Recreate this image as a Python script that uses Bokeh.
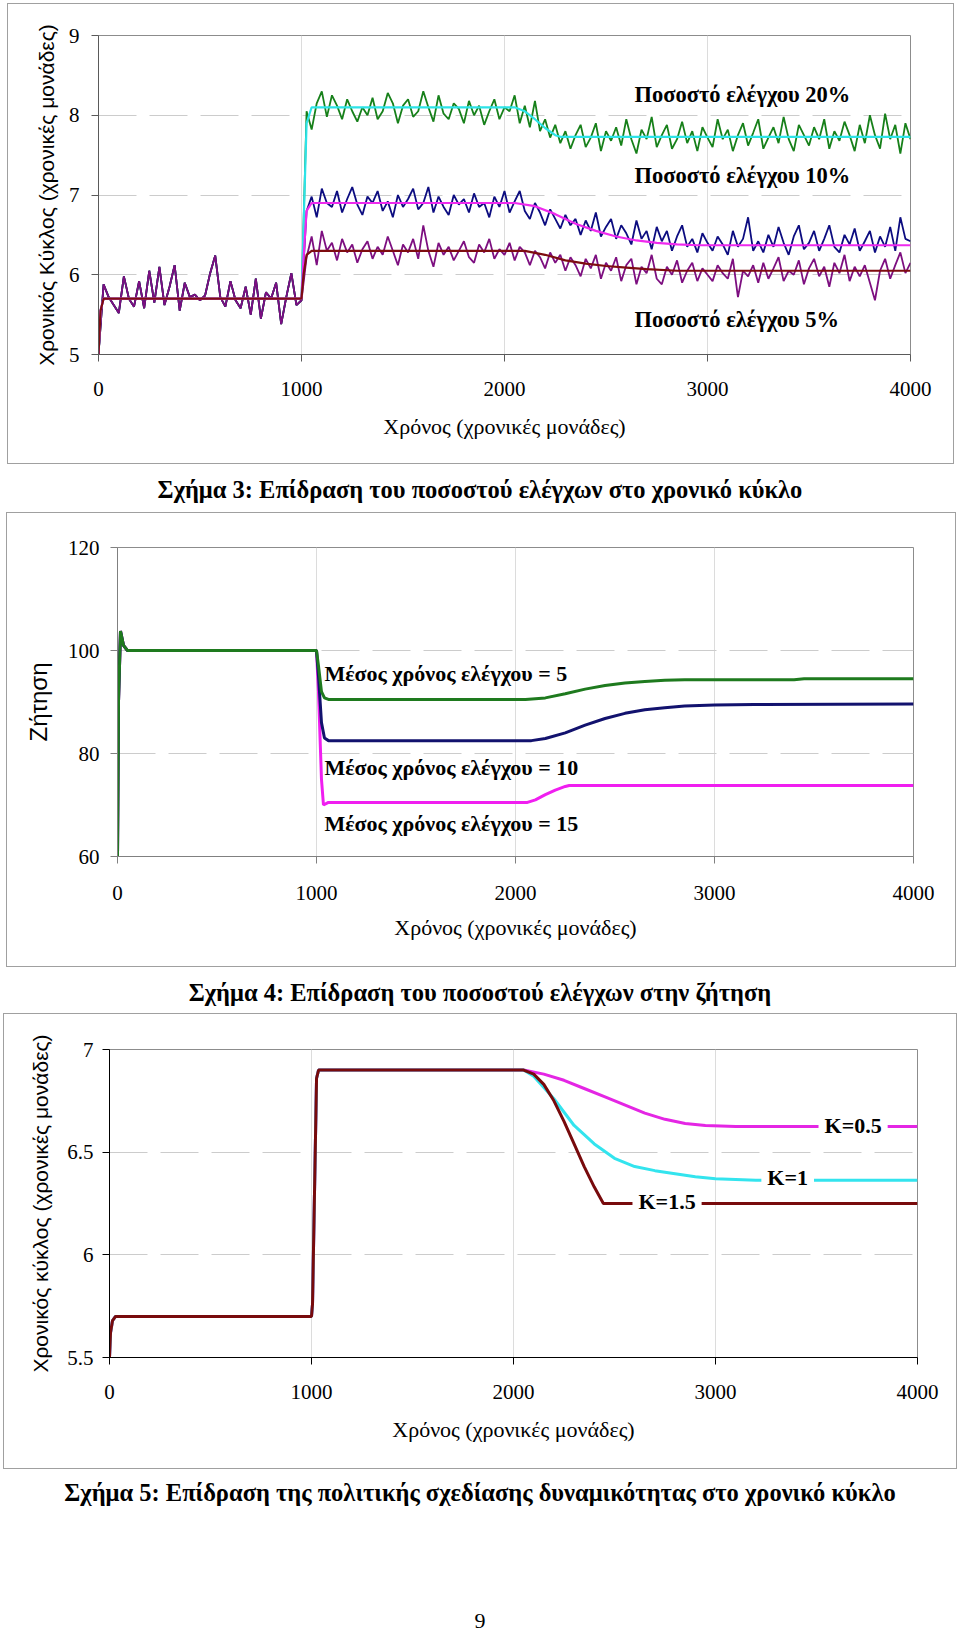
from bokeh.plotting import figure
from bokeh.models import Range1d, FixedTicker, Label, Div, CustomJSTickFormatter, Spacer
from bokeh.layouts import column, row
from bokeh.embed import file_html
from bokeh.resources import INLINE

SERIF = "Liberation Serif"
SANS = "Liberation Sans"
XTITLE = "Χρόνος (χρονικές μονάδες)"

# ---------------- Figure 3 data (cycle time vs. control percentage) ----------------
t_pre = list(range(0, 1001, 25))
t_post = list(range(1025, 4001, 25))

noise_pre = [5.0, 5.88, 5.72, 5.62, 5.52, 5.98, 5.7, 5.6, 5.92, 5.58,
             6.05, 5.65, 6.1, 5.62, 5.85, 6.12, 5.55, 5.9, 5.72, 5.75,
             5.68, 5.74, 6.02, 6.24, 5.72, 5.6, 5.92, 5.68, 5.58, 5.85,
             5.5, 5.95, 5.45, 5.78, 5.7, 5.9, 5.38, 5.72, 6.02, 5.62, 5.68]

green_post = [8.05, 7.82, 8.15, 8.3, 7.98, 8.25, 8.12, 7.95, 8.2, 8.05,
              7.92, 8.1, 8.0, 8.22, 7.95, 8.05, 8.28, 8.15, 7.9, 8.12,
              8.2, 7.98, 8.05, 8.3, 8.1, 7.92, 8.25, 8.02, 7.95, 8.15,
              8.08, 7.9, 8.18, 8.0, 8.12, 7.88, 8.05, 8.2, 7.95, 8.1,
              8.05, 8.25, 7.9, 8.12, 7.85, 8.18, 7.8, 7.95, 7.72, 7.88,
              7.65, 7.8, 7.58, 7.75, 7.88, 7.6, 7.72, 7.9, 7.55, 7.8,
              7.68, 7.85, 7.62, 7.95, 7.7, 7.52, 7.82, 7.7, 7.98, 7.6,
              7.75, 7.88, 7.58, 7.7, 7.92, 7.65, 7.8, 7.55, 7.85, 7.72,
              7.6, 7.95, 7.7, 7.82, 7.55, 7.75, 7.9, 7.62, 7.78, 7.95,
              7.58, 7.72, 7.85, 7.65, 7.98, 7.7, 7.55, 7.88, 7.75, 7.62,
              7.85, 7.7, 7.95, 7.58, 7.8, 7.68, 7.92, 7.75, 7.55, 7.88,
              7.65, 8.0, 7.75, 7.58, 8.02, 7.7, 7.88, 7.52, 7.9, 7.7]

navy_post = [6.8, 6.98, 6.72, 7.08, 6.9, 6.85, 7.05, 6.78, 6.95, 7.1,
             6.88, 6.75, 6.98, 6.9, 7.05, 6.8, 6.92, 6.72, 7.0, 6.85,
             6.95, 7.08, 6.82, 6.9, 7.1, 6.78, 6.98, 6.85, 6.75, 7.0,
             6.88, 6.95, 6.78, 7.02, 6.85, 6.9, 6.72, 6.98, 6.85, 7.05,
             6.78, 6.92, 7.05, 6.8, 6.7, 6.9, 6.78, 6.62, 6.82, 6.7,
             6.58, 6.75, 6.62, 6.7, 6.5, 6.68, 6.55, 6.78, 6.48, 6.6,
             6.7, 6.45, 6.62, 6.52, 6.38, 6.68, 6.45, 6.55, 6.32, 6.6,
             6.42, 6.55, 6.3, 6.48, 6.62, 6.35, 6.45, 6.28, 6.52, 6.4,
             6.3, 6.48, 6.38, 6.25, 6.55, 6.35, 6.45, 6.72, 6.3, 6.42,
             6.28, 6.5, 6.35, 6.6, 6.4, 6.25, 6.48, 6.62, 6.32, 6.4,
             6.55, 6.3, 6.45, 6.62, 6.35, 6.28, 6.5, 6.38, 6.58, 6.3,
             6.42, 6.55, 6.28, 6.48, 6.35, 6.6, 6.3, 6.72, 6.45, 6.42]

purple_post = [6.22, 6.48, 6.12, 6.55, 6.3, 6.4, 6.18, 6.45, 6.28, 6.38,
               6.15, 6.32, 6.42, 6.2, 6.35, 6.25, 6.48, 6.3, 6.12, 6.38,
               6.28, 6.45, 6.2, 6.62, 6.3, 6.1, 6.4, 6.25, 6.35, 6.18,
               6.3, 6.42, 6.22, 6.15, 6.38, 6.28, 6.45, 6.2, 6.32, 6.25,
               6.4, 6.18, 6.35, 6.28, 6.12, 6.3, 6.22, 6.08, 6.28, 6.15,
               6.25, 6.05, 6.22, 6.12, 5.98, 6.2, 6.08, 6.25, 5.95, 6.15,
               6.05, 6.22, 5.92, 6.12, 6.2, 5.88, 6.1, 6.02, 6.25, 5.95,
               5.88, 6.1, 6.0, 6.18, 5.9, 6.05, 6.15, 5.92, 6.08, 6.0,
               5.92, 6.12, 6.02, 5.95, 6.2, 5.72, 6.05, 5.98, 6.12, 5.9,
               6.15, 5.95, 6.08, 6.22, 5.92, 6.05, 6.0, 6.18, 5.88, 6.08,
               6.2, 5.98, 6.1, 5.85, 6.15, 6.02, 6.25, 5.92, 6.1, 5.98,
               6.12, 5.9, 5.68, 6.05, 6.2, 5.95, 6.12, 6.28, 6.02, 6.15]

smooth_pre_t = [0, 10, 25, 1000]
smooth_pre_v = [5.0, 5.55, 5.7, 5.7]
cyan1_t = [1010, 1025, 1050, 2050, 2100, 2150, 2200, 2250, 2275, 4000]
cyan1_v = [6.6, 7.9, 8.1, 8.1, 8.05, 7.95, 7.84, 7.75, 7.73, 7.73]
mag1_t = [1010, 1025, 1050, 2050, 2150, 2250, 2350, 2450, 2550, 2650, 2750, 2850, 2950, 4000]
mag1_v = [6.2, 6.8, 6.9, 6.9, 6.86, 6.76, 6.64, 6.55, 6.48, 6.43, 6.4, 6.38, 6.37, 6.37]
red1_t = [1010, 1025, 1050, 2100, 2200, 2300, 2400, 2500, 2600, 2700, 2850, 4000]
red1_v = [6.0, 6.25, 6.3, 6.3, 6.25, 6.18, 6.14, 6.11, 6.09, 6.07, 6.05, 6.05]

labels1 = ["Ποσοστό ελέγχου 20%", "Ποσοστό ελέγχου  10%", "Ποσοστό ελέγχου  5%"]
labels1_x = [2640, 2640, 2640]
labels1_y = [8.26, 7.245, 5.44]

# ---------------- Figure 4 data (demand) ----------------
pre2_t = [0, 5, 15, 30, 50, 1000]
pre2_v = [60, 90, 103.8, 101, 100, 100]
green2_t = [1010, 1025, 1040, 1060, 2050, 2150, 2250, 2350, 2450, 2550, 2650, 2750, 2850, 3000, 3400, 3450, 4000]
green2_v = [97, 92, 90.8, 90.5, 90.5, 90.8, 91.6, 92.5, 93.2, 93.7, 94.0, 94.2, 94.3, 94.3, 94.3, 94.5, 94.5]
navy2_t = [1010, 1025, 1040, 1060, 2080, 2150, 2250, 2350, 2450, 2550, 2650, 2750, 2850, 3000, 3200, 4000]
navy2_v = [95, 86, 83, 82.5, 82.5, 82.9, 84.0, 85.5, 86.8, 87.8, 88.5, 88.9, 89.2, 89.4, 89.5, 89.6]
mag2_t = [1010, 1025, 1035, 1060, 2060, 2100, 2150, 2200, 2250, 2270, 4000]
mag2_v = [92, 75, 70, 70.5, 70.5, 71.0, 72.0, 72.9, 73.6, 73.8, 73.8]

labels2 = ["Μέσος χρόνος ελέγχου = 5", "Μέσος χρόνος ελέγχου = 10", "Μέσος χρόνος ελέγχου = 15"]
labels2_x = [1040, 1040, 1040]
labels2_y = [95.5, 77.3, 66.4]

# ---------------- Figure 5 data (capacity policy) ----------------
pre3_t = [0, 5, 15, 30, 1000, 1005, 1025, 1035, 2050]
pre3_v = [5.5, 5.62, 5.68, 5.7, 5.7, 5.76, 6.86, 6.9, 6.9]
red3_t = [2100, 2150, 2200, 2250, 2300, 2350, 2400, 2445, 4000]
red3_v = [6.88, 6.83, 6.75, 6.65, 6.54, 6.43, 6.33, 6.25, 6.25]
cyan3_t = [2100, 2200, 2300, 2400, 2500, 2600, 2700, 2800, 2900, 3000, 3200, 4000]
cyan3_v = [6.87, 6.76, 6.63, 6.54, 6.47, 6.43, 6.41, 6.395, 6.38, 6.37, 6.363, 6.363]
mag3_t = [2150, 2250, 2350, 2450, 2550, 2650, 2750, 2850, 2950, 3100, 4000]
mag3_v = [6.88, 6.85, 6.81, 6.77, 6.73, 6.69, 6.66, 6.64, 6.63, 6.625, 6.625]

labels3 = ["K=0.5", "K=1", "K=1.5"]
labels3_x = [3510, 3227, 2589]
labels3_y = [6.63, 6.375, 6.258]

X_TICKS = [0, 1000, 2000, 3000, 4000]


def make_fig(width, height, mbl, mbr, mbt, mbb, yr, axis_color):
    p = figure(width=width, height=height, x_range=Range1d(0, 4000), y_range=Range1d(*yr),
               output_backend="svg", toolbar_location=None,
               min_border_left=mbl, min_border_right=mbr, min_border_top=mbt, min_border_bottom=mbb,
               styles={"outline": "1.5px solid #a0a0a0", "outline-offset": "-1.5px"})
    p.outline_line_color = "#8c8c8c"
    p.outline_line_width = 1
    p.background_fill_color = "white"
    p.border_fill_color = None
    for ax in (p.xaxis[0], p.yaxis[0]):
        ax.axis_line_color = axis_color
        ax.axis_line_width = 1
        ax.major_tick_line_color = axis_color
        ax.major_tick_in = 0
        ax.major_tick_out = 7
        ax.minor_tick_in = 0
        ax.minor_tick_out = 0
        ax.major_label_text_font = SERIF
        ax.major_label_text_font_size = "21px"
        ax.major_label_text_color = "black"
        ax.axis_label_text_font_style = "normal"
        ax.axis_label_text_color = "black"
    p.xaxis.ticker = FixedTicker(ticks=X_TICKS)
    p.xaxis.axis_label = XTITLE
    p.xaxis.axis_label_text_font = SERIF
    p.xaxis.axis_label_text_font_size = "22px"
    p.xgrid.ticker = FixedTicker(ticks=[1000, 2000, 3000])
    p.xgrid.grid_line_color = "#dcdcdc"
    p.ygrid.grid_line_color = "#cccccc"
    p.ygrid.grid_line_dash = "38 13"
    return p


# ---------------- Chart 1 ----------------
W1, H1 = 947, 461
p1 = make_fig(W1, H1, 91, 44, 32, 110, (5, 9), "#5a5a5a")
p1.yaxis.ticker = FixedTicker(ticks=[5, 6, 7, 8, 9])
p1.ygrid.ticker = FixedTicker(ticks=[6, 7, 8])
p1.yaxis.axis_label = "Χρονικός Κύκλος (χρονικές μονάδες)"
p1.yaxis.axis_label_text_font = SANS
p1.yaxis.axis_label_text_font_size = "21px"
p1.yaxis.major_label_standoff = 12
p1.yaxis.axis_label_standoff = 8
p1.xaxis.major_label_standoff = 20
p1.xaxis.axis_label_standoff = 15

p1.line(t_pre + t_post, noise_pre + green_post, line_color="#17801a", line_width=1.8)
p1.line(t_pre + t_post, noise_pre + navy_post, line_color="#0c0c80", line_width=1.8)
p1.line(t_pre + t_post, noise_pre + purple_post, line_color="#7d0f80", line_width=1.8)
p1.line(smooth_pre_t + cyan1_t, smooth_pre_v + cyan1_v, line_color="#2de3e8", line_width=2.2)
p1.line(smooth_pre_t + mag1_t, smooth_pre_v + mag1_v, line_color="#ee2aee", line_width=2.2)
p1.line(smooth_pre_t + red1_t, smooth_pre_v + red1_v, line_color="#7e0c10", line_width=2.2)
for txt, x, y in zip(labels1, labels1_x, labels1_y):
    p1.add_layout(Label(x=x, y=y, text=txt, text_font=SERIF, text_font_style="bold",
                        text_font_size="22.5px", text_baseline="middle", text_color="black"))

# ---------------- Chart 2 ----------------
W2, H2 = 950, 455
p2 = make_fig(W2, H2, 111, 43, 35, 111, (60, 120), "#808080")
p2.yaxis.ticker = FixedTicker(ticks=[60, 80, 100, 120])
p2.ygrid.ticker = FixedTicker(ticks=[80, 100])
p2.yaxis.axis_label = "Ζήτηση"
p2.yaxis.axis_label_text_font = SANS
p2.yaxis.axis_label_text_font_size = "24px"
p2.yaxis.major_label_standoff = 11
p2.yaxis.axis_label_standoff = 13
p2.xaxis.major_label_standoff = 22
p2.xaxis.axis_label_standoff = 12

p2.line(pre2_t + mag2_t, pre2_v + mag2_v, line_color="#f01ef0", line_width=3)
p2.line(pre2_t + navy2_t, pre2_v + navy2_v, line_color="#12126e", line_width=3)
p2.line(pre2_t + green2_t, pre2_v + green2_v, line_color="#1e7a1e", line_width=3)
for txt, x, y in zip(labels2, labels2_x, labels2_y):
    p2.add_layout(Label(x=x, y=y, text=txt, text_font=SERIF, text_font_style="bold",
                        text_font_size="22px", text_baseline="middle", text_color="black"))

# ---------------- Chart 3 ----------------
W3, H3 = 954, 456
p3 = make_fig(W3, H3, 106, 40, 36, 112, (5.5, 7), "#000000")
p3.yaxis.ticker = FixedTicker(ticks=[5.5, 6, 6.5, 7])
p3.yaxis.formatter = CustomJSTickFormatter(code="return String(tick);")
p3.ygrid.ticker = FixedTicker(ticks=[6, 6.5])
p3.yaxis.axis_label = "Χρονικός κύκλος (χρονικές μονάδες)"
p3.yaxis.axis_label_text_font = SANS
p3.yaxis.axis_label_text_font_size = "21px"
p3.yaxis.major_label_standoff = 9
p3.yaxis.axis_label_standoff = 12
p3.xaxis.major_label_standoff = 20
p3.xaxis.axis_label_standoff = 15

p3.line(pre3_t + mag3_t, pre3_v + mag3_v, line_color="#e426e4", line_width=3)
p3.line(pre3_t + cyan3_t, pre3_v + cyan3_v, line_color="#33e4ee", line_width=3)
p3.line(pre3_t + red3_t, pre3_v + red3_v, line_color="#780a0c", line_width=3)
for txt, x, y in zip(labels3, labels3_x, labels3_y):
    p3.add_layout(Label(x=x, y=y, text=txt, text_font=SERIF, text_font_style="bold",
                        text_font_size="22px", text_baseline="middle", text_color="black",
                        background_fill_color="white", padding=6))


def caption(text, h, size=24.5, bold=True, shift=0, line_h=None):
    weight = "bold" if bold else "normal"
    lh = h if line_h is None else line_h
    html = (f'<div style="width:960px;height:{lh}px;line-height:{lh}px;text-align:center;'
            f"font-family:'{SERIF}';font-weight:{weight};font-size:{size}px;color:#000;"
            f'white-space:nowrap;position:relative;top:{shift}px">{text}</div>')
    return Div(text=html, width=960, height=h, margin=0)


cap3 = caption("Σχήμα 3: Επίδραση του ποσοστού ελέγχων στο χρονικό κύκλο", 48, shift=2)
cap4 = caption("Σχήμα 4: Επίδραση του ποσοστού ελέγχων στην ζήτηση", 46, shift=3)
cap5 = caption("Σχήμα 5: Επίδραση της πολιτικής σχεδίασης δυναμικότητας στο χρονικό κύκλο", 48)
page = caption("9", 117, size=22, bold=False, shift=92, line_h=24)

for f in (p1, p2, p3):
    f.margin = 0

row1 = row(Spacer(width=7, height=H1, margin=0), p1, spacing=0)
row2 = row(Spacer(width=6, height=H2, margin=0), p2, spacing=0)
row3 = row(Spacer(width=3, height=H3, margin=0), p3, spacing=0)

layout = column(Spacer(width=960, height=3, margin=0), row1, cap3, row2, cap4, row3, cap5, page,
                spacing=0)
open("out.html", "w").write(file_html(layout, INLINE))
